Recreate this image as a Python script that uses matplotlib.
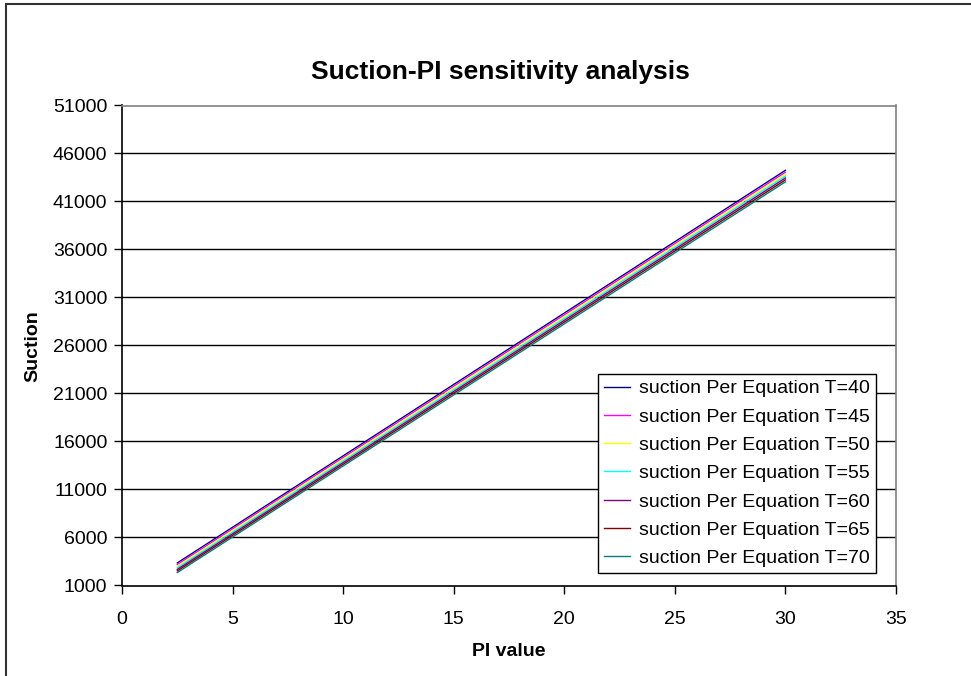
import matplotlib
matplotlib.use("Agg")
import matplotlib.pyplot as plt
from matplotlib.patches import Rectangle

plt.rcParams['font.family'] = ['Liberation Sans', 'DejaVu Sans']

# PI values and suction per equation for each temperature
pi_value = [2.5, 5, 10, 15, 20, 25, 30]
suction_t40 = [3350, 7068, 14505, 21941, 29378, 36814, 44250]
suction_t45 = [3180, 6896, 14327, 21757, 29188, 36619, 44050]
suction_t50 = [3010, 6723, 14148, 21574, 28999, 36425, 43850]
suction_t55 = [2850, 6559, 13977, 21395, 28814, 36232, 43650]
suction_t60 = [2680, 6386, 13799, 21211, 28624, 36037, 43450]
suction_t65 = [2520, 6223, 13628, 21034, 28439, 35845, 43250]
suction_t70 = [2350, 6050, 13450, 20850, 28250, 35650, 43050]

labels = ["suction Per Equation T=40", "suction Per Equation T=45",
          "suction Per Equation T=50", "suction Per Equation T=55",
          "suction Per Equation T=60", "suction Per Equation T=65",
          "suction Per Equation T=70"]
colors = ["#000080", "#FF00FF", "#FFFF00", "#00FFFF", "#800080", "#800000", "#008080"]
series = [suction_t40, suction_t45, suction_t50, suction_t55,
          suction_t60, suction_t65, suction_t70]

yticks = list(range(1000, 51001, 5000))
xticks = list(range(0, 36, 5))

W, H = 971, 676
fig = plt.figure(figsize=(W / 100, H / 100), dpi=100)
ax = fig.add_axes([122 / W, 1 - 585.5 / H, (896 - 122) / W, (585.5 - 105.5) / H])

for ys, c, lbl in zip(series, colors, labels):
    ax.plot(pi_value, ys, color=c, lw=1.0, label=lbl)

ax.set_xlim(0, 35)
ax.set_ylim(1000, 51000)
ax.set_xticks(xticks)
ax.set_yticks(yticks)
ax.tick_params(labelsize=14, length=6, width=1, direction="out", color="black")
ax.tick_params(axis="x", pad=12)
ax.tick_params(axis="y", pad=4.5)

# horizontal gridlines in black, plot-area frame gray on top/right
for y in yticks[1:-1]:
    ax.axhline(y, color="black", lw=1, zorder=0)
ax.spines["top"].set_color("#808080")
ax.spines["right"].set_color("#808080")
ax.spines["left"].set_color("black")
ax.spines["bottom"].set_color("black")
for s in ax.spines.values():
    s.set_linewidth(1.2)

fig.text(509 / W, 1 - 652 / H, "PI value", fontsize=14, fontweight="bold",
         ha="center", va="center")
fig.text(33 / W, 1 - 346 / H, "Suction", fontsize=14, fontweight="bold",
         ha="center", va="center", rotation=90)
fig.text(500 / W, 1 - 72 / H, "Suction-PI sensitivity analysis",
         fontsize=19, fontweight="bold", ha="center", va="center")

leg = ax.legend(loc="lower right", bbox_to_anchor=(876 / W, 1 - 573 / H),
                bbox_transform=fig.transFigure, fontsize=14, frameon=True,
                fancybox=False, edgecolor="black", framealpha=1,
                handlelength=1.3, handletextpad=0.5, labelspacing=0.55,
                borderpad=0.3, borderaxespad=0)
leg.get_frame().set_linewidth(1.0)

# chart-area border
fig.patches.append(Rectangle((6 / W, -0.5), 2, 0.5 + 1 - 3.5 / H,
                             transform=fig.transFigure, fill=False,
                             edgecolor="#333333", lw=1.5))

fig.savefig("out.png", dpi=100, facecolor="white")
